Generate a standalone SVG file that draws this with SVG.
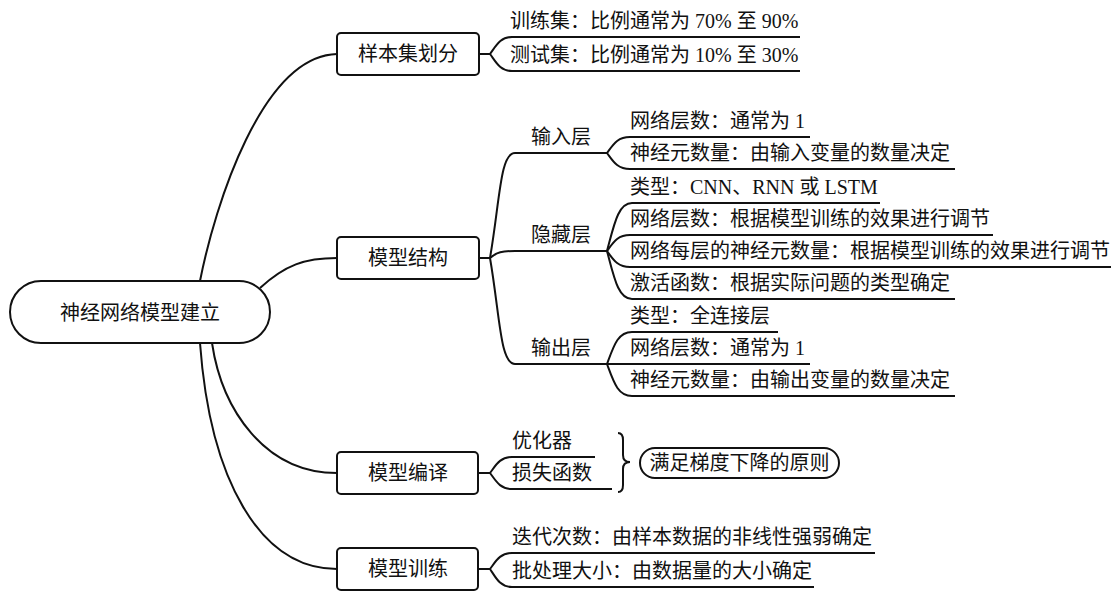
<svg xmlns="http://www.w3.org/2000/svg" width="1113" height="591" viewBox="0 0 1113 591">
<style>
text{font-family:"Liberation Serif","Noto Sans CJK SC",serif;font-size:20px;fill:#111}
.c{text-anchor:middle}
.box{fill:#fff;stroke:#111;stroke-width:2}
.ln{fill:none;stroke:#111;stroke-width:2}
</style>
<rect width="1113" height="591" fill="#fff"/>
<g id="connectors" class="ln">
<path class="ln" d="M200,281 C215,205 262,56 337,54"/>
<path class="ln" d="M260,288 C285,265 305,258 337,258"/>
<path class="ln" d="M212,343 C222,410 265,473 337,473"/>
<path class="ln" d="M200,343 C210,480 260,569 337,569"/>
<path class="ln" d="M479,54 L490,54 C496,46 500,37 512,37 L800,37"/>
<path class="ln" d="M490,54 C496,62 500,71 512,71 L800,71"/>
<path class="ln" d="M479,258 L490,258 C500,200 500,153 515,153 L607,153"/>
<path class="ln" d="M490,258 C497,252 502,251 515,251 L607,251"/>
<path class="ln" d="M490,258 C500,316 500,364 515,364 L607,364"/>
<path class="ln" d="M607,153 C613,145 617,137 630,137 L810,137"/>
<path class="ln" d="M607,153 C613,161 617,169 630,169 L955,169"/>
<path class="ln" d="M607,251 C614,225 618,203 632,203 L880,203"/>
<path class="ln" d="M607,251 C613,243 617,235 630,235 L993,235"/>
<path class="ln" d="M607,251 C613,259 617,267 630,267 L1111,267"/>
<path class="ln" d="M607,251 C614,277 618,299 632,299 L955,299"/>
<path class="ln" d="M607,364 C614,345 618,332 632,332 L778,332"/>
<path class="ln" d="M607,364 L810,364"/>
<path class="ln" d="M607,364 C614,383 618,396 632,396 L955,396"/>
<path class="ln" d="M478,473 L490,473 C496,465 500,457 512,457 L595,457"/>
<path class="ln" d="M490,473 C496,481 500,489 512,489 L612,489"/>
<path class="ln" d="M618,433 Q623,433 623,440 L623,455 Q623,462 630,462 Q623,462 623,469 L623,485 Q623,492 618,492"/>
<path class="ln" d="M478,569 L490,569 C496,561 500,553 512,553 L875,553"/>
<path class="ln" d="M490,569 C496,578 500,587 512,587 L814,587"/>
</g>
<g id="root"><rect class="box" x="10" y="281" width="260" height="62" rx="31"/><text class="c" x="140" y="320">神经网络模型建立</text></g>
<g id="n-split"><rect class="box" x="337" y="33" width="142" height="42" rx="4"/><text class="c" x="408" y="61">样本集划分</text></g>
<g id="n-struct"><rect class="box" x="337" y="237" width="142" height="42" rx="4"/><text class="c" x="408" y="265">模型结构</text></g>
<g id="n-compile"><rect class="box" x="337" y="452" width="141" height="42" rx="4"/><text class="c" x="408" y="480">模型编译</text></g>
<g id="n-train"><rect class="box" x="337" y="548" width="141" height="42" rx="4"/><text class="c" x="408" y="576">模型训练</text></g>
<g id="l-train"><text x="510" y="28">训练集：比例通常为 70% 至 90%</text></g>
<g id="l-test"><text x="510" y="62">测试集：比例通常为 10% 至 30%</text></g>
<g id="n-input"><text class="c" x="561" y="144">输入层</text></g>
<g id="n-hidden"><text class="c" x="561" y="242">隐藏层</text></g>
<g id="n-output"><text class="c" x="561" y="355">输出层</text></g>
<g id="l-in1"><text x="630" y="128">网络层数：通常为 1</text></g>
<g id="l-in2"><text x="630" y="160">神经元数量：由输入变量的数量决定</text></g>
<g id="l-h1"><text x="630" y="194">类型：CNN、RNN 或 LSTM</text></g>
<g id="l-h2"><text x="630" y="226">网络层数：根据模型训练的效果进行调节</text></g>
<g id="l-h3"><text x="630" y="258">网络每层的神经元数量：根据模型训练的效果进行调节</text></g>
<g id="l-h4"><text x="630" y="290">激活函数：根据实际问题的类型确定</text></g>
<g id="l-o1"><text x="630" y="323">类型：全连接层</text></g>
<g id="l-o2"><text x="630" y="355">网络层数：通常为 1</text></g>
<g id="l-o3"><text x="630" y="387">神经元数量：由输出变量的数量决定</text></g>
<g id="l-opt"><text x="512" y="448">优化器</text></g>
<g id="l-loss"><text x="512" y="480">损失函数</text></g>
<g id="n-grad"><rect class="box" x="640" y="448" width="199" height="30" rx="15"/><text class="c" x="739.5" y="470">满足梯度下降的原则</text></g>
<g id="l-iter"><text x="512" y="544">迭代次数：由样本数据的非线性强弱确定</text></g>
<g id="l-batch"><text x="512" y="578">批处理大小：由数据量的大小确定</text></g>
</svg>
